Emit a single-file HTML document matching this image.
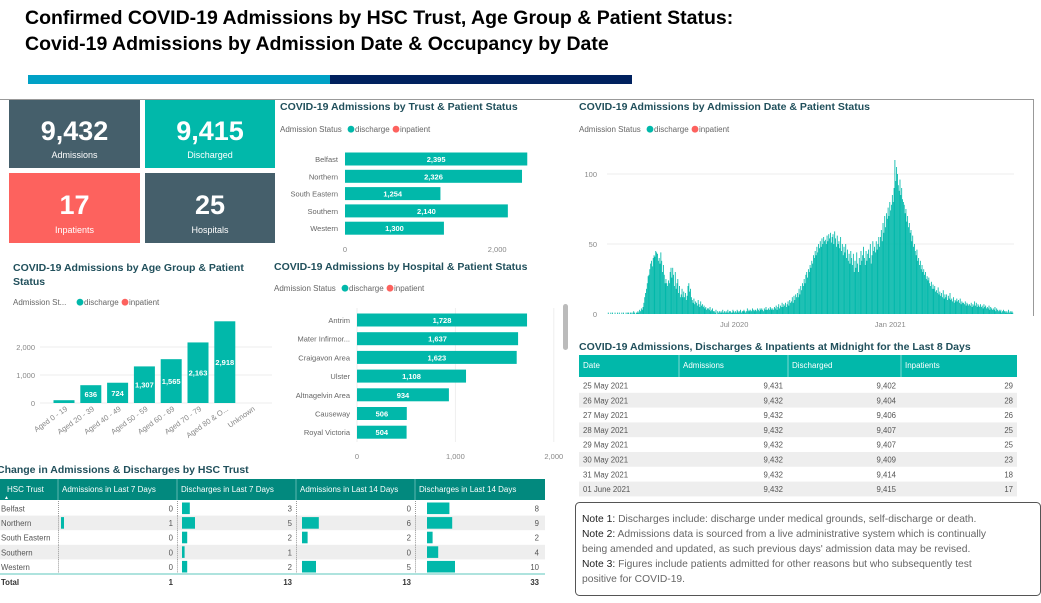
<!DOCTYPE html>
<html><head><meta charset="utf-8">
<style>
html,body{margin:0;padding:0;background:#fff;}
body{width:1041px;height:598px;overflow:hidden;position:relative;font-family:"Liberation Sans",sans-serif;}
svg text{font-family:"Liberation Sans",sans-serif;}
</style></head>
<body>
<svg id="s" width="1041" height="598" viewBox="0 0 1041 598" xmlns="http://www.w3.org/2000/svg">
  <text x="25" y="24" font-size="19.5" font-weight="bold" fill="#000">Confirmed COVID-19 Admissions by HSC Trust, Age Group &amp; Patient Status:</text>
  <text x="25" y="50" font-size="19.5" font-weight="bold" fill="#000">Covid-19 Admissions by Admission Date &amp; Occupancy by Date</text>
  <rect x="28" y="75" width="302" height="9" fill="#00a1c6"/>
  <rect x="330" y="75" width="302" height="9" fill="#00215e"/>
  <line x1="0" y1="99.5" x2="1033" y2="99.5" stroke="#999" stroke-width="1"/>
  <line x1="1033.5" y1="99" x2="1033.5" y2="316" stroke="#999" stroke-width="1"/>

  <g>
    <rect x="9" y="100" width="131" height="68" fill="#455f6b"/>
    <text x="74.5" y="140" font-size="27" font-weight="bold" fill="#fff" text-anchor="middle">9,432</text>
    <text x="74.5" y="158" font-size="9" fill="#fff" text-anchor="middle">Admissions</text>
  </g>
  <g>
    <rect x="145" y="100" width="130" height="68" fill="#01b8aa"/>
    <text x="210" y="140" font-size="27" font-weight="bold" fill="#fff" text-anchor="middle">9,415</text>
    <text x="210" y="158" font-size="9" fill="#fff" text-anchor="middle">Discharged</text>
  </g>
  <g>
    <rect x="9" y="173" width="131" height="70" fill="#fd625e"/>
    <text x="74.5" y="214" font-size="27" font-weight="bold" fill="#fff" text-anchor="middle">17</text>
    <text x="74.5" y="233" font-size="9" fill="#fff" text-anchor="middle">Inpatients</text>
  </g>
  <g>
    <rect x="145" y="173" width="130" height="70" fill="#455f6b"/>
    <text x="210" y="214" font-size="27" font-weight="bold" fill="#fff" text-anchor="middle">25</text>
    <text x="210" y="233" font-size="9" fill="#fff" text-anchor="middle">Hospitals</text>
  </g>

  <text x="280" y="110" font-size="10.5" font-weight="bold" fill="#21505c">COVID-19 Admissions by Trust &amp; Patient Status</text>
  <text x="13" y="271" font-size="10.5" font-weight="bold" fill="#21505c">COVID-19 Admissions by Age Group &amp; Patient</text>
  <text x="13" y="285" font-size="10.5" font-weight="bold" fill="#21505c">Status</text>
  <text x="274" y="270" font-size="10.5" font-weight="bold" fill="#21505c">COVID-19 Admissions by Hospital &amp; Patient Status</text>
  <text x="579" y="110" font-size="10.5" font-weight="bold" fill="#21505c">COVID-19 Admissions by Admission Date &amp; Patient Status</text>
  <text x="579" y="350" font-size="10.5" font-weight="bold" fill="#21505c">COVID-19 Admissions, Discharges &amp; Inpatients at Midnight for the Last 8 Days</text>
  <text x="-3" y="473" font-size="10.5" font-weight="bold" fill="#21505c">Change in Admissions &amp; Discharges by HSC Trust</text>

  <rect x="563" y="304" width="5" height="46" rx="2.5" fill="#bbb"/>

  <g id="g"></g>

  <g>
    <rect x="575.5" y="502.5" width="465" height="93" rx="4" fill="#fff" stroke="#555" stroke-width="1"/>
    <text x="582" y="522" font-size="10.3" fill="#666"><tspan fill="#222">Note 1:</tspan> Discharges include: discharge under medical grounds, self-discharge or death.</text>
    <text x="582" y="537" font-size="10.3" fill="#666"><tspan fill="#222">Note 2:</tspan> Admissions data is sourced from a live administrative system which is continually</text>
    <text x="582" y="552" font-size="10.3" fill="#666">being amended and updated, as such previous days' admission data may be revised.</text>
    <text x="582" y="567" font-size="10.3" fill="#666"><tspan fill="#222">Note 3:</tspan> Figures include patients admitted for other reasons but who subsequently test</text>
    <text x="582" y="582" font-size="10.3" fill="#666">positive for COVID-19.</text>
  </g>
</svg>
<script>
const trustNames = ["Belfast","Northern","South Eastern","Southern","Western"];
const trustValues = [2395,2326,1254,2140,1300];
const trustTicks = [0,2000];
const ageGroups = ["Aged 0 - 19","Aged 20 - 39","Aged 40 - 49","Aged 50 - 59","Aged 60 - 69","Aged 70 - 79","Aged 80 & O...","Unknown"];
const ageValues = [100,636,724,1307,1565,2163,2918,0];
const ageTicks = [0,1000,2000];
const hospitalNames = ["Antrim","Mater Infirmor...","Craigavon Area","Ulster","Altnagelvin Area","Causeway","Royal Victoria"];
const hospitalValues = [1728,1637,1623,1108,934,506,504];
const hospitalTicks = [0,1000,2000];
const dailyStart = "2020-02-02";
const dailyValues = [
0,1,0,0,1,0,1, 0,0,1,0,0,1,0, 1,0,0,1,0,1,0, 0,1,0,1,1,0,1, 1,0,1,2,1,0,1,
1,2,1,3,2,4,3, 5,8,12,15,18,22,27, 28,32,36,38,34,40,42, 41,45,44,43,38,40,36,
44,38,30,35,28,22,25, 22,20,24,22,30,33,26, 33,28,20,30,18,22,25, 15,20,12,14,18,12,16,
12,15,10,13,20,22,16, 18,12,10,8,11,7,9, 8,6,10,7,5,9,6, 7,5,6,4,5,3,4,
4,3,5,2,3,4,2, 2,1,3,0,2,1,2, 1,2,1,3,1,2,1, 2,1,3,1,2,2,1, 1,3,2,1,2,1,3,
2,1,2,3,1,2,2, 3,2,1,2,4,2,3, 2,3,2,4,3,2,3, 3,2,4,3,2,4,3, 4,3,2,4,3,5,3,
3,4,3,5,4,3,4, 3,5,4,6,3,5,7, 4,6,5,8,5,7,6, 8,5,7,9,6,10,8, 9,12,8,13,10,14,12,
15,12,18,14,20,17,22, 20,25,22,28,30,26,32, 30,35,33,38,36,42,40, 45,42,48,44,50,47,52,
48,54,50,55,52,53,50, 56,52,57,54,58,51,55, 57,50,59,54,48,56,50, 52,47,55,45,50,42,48,
44,50,40,46,38,43,36, 45,40,35,43,30,38,33, 44,36,30,40,35,45,38, 42,48,40,35,45,38,43,
46,40,50,36,42,52,45, 48,44,52,46,50,55,48, 55,60,52,65,58,70,62, 72,68,76,70,80,74,78,
85,80,90,110,95,105,100, 92,88,96,85,90,82,80, 78,72,75,66,70,62,65, 58,60,52,56,48,50,45,
42,46,38,40,35,38,32, 35,30,32,28,30,25,27, 24,26,22,20,23,18,21, 18,20,16,17,15,19,14,
16,13,15,12,17,11,14, 12,14,10,13,11,15,10, 11,9,12,8,10,9,11, 9,10,8,11,7,9,8,
8,7,9,6,8,7,6, 7,6,8,5,7,6,9, 6,8,5,7,6,5,7, 5,6,4,7,5,6,4,
5,4,6,3,5,4,3, 4,3,5,2,4,3,2, 3,2,3,1,2,3,2, 2,1,2,1,3,1,2, 1,2,1
];
const dateTicks = [50,100];
const dateTickLabels = ["Jul 2020","Jan 2021"];
const dateTickDates = ["2020-07-01","2021-01-01"];
const midDates = ["25 May 2021","26 May 2021","27 May 2021","28 May 2021","29 May 2021","30 May 2021","31 May 2021","01 June 2021"];
const midAdmissions = [9431,9432,9432,9432,9432,9432,9432,9432];
const midDischarged = [9402,9404,9406,9407,9407,9409,9414,9415];
const midInpatients = [29,28,26,25,25,23,18,17];
const chTrusts = ["Belfast","Northern","South Eastern","Southern","Western"];
const chAdm7 = [0,1,0,0,0];
const chDis7 = [3,5,2,1,2];
const chAdm14 = [0,6,2,0,5];
const chDis14 = [8,9,2,4,10];
const chTotals = [1,13,13,33];

const NS="http://www.w3.org/2000/svg";
const G=document.getElementById('g');
function el(tag,attrs,parent){const e=document.createElementNS(NS,tag);for(const k in attrs)e.setAttribute(k,attrs[k]);(parent||G).appendChild(e);return e;}
function txt(x,y,s,size,fill,anchor,extra){const t=el('text',Object.assign({x:x,y:y,'font-size':size,fill:fill,'text-anchor':anchor||'start'},extra||{}));t.textContent=s;return t;}
const fmt=v=>v.toLocaleString('en-US');
const TEAL="#01b8aa", RED="#fd625e";
function legend(x,y,label){
  txt(x,y,label,8,"#666");
  const w=label.length*4+4;
  el('circle',{cx:x+w+3,cy:y-2.8,r:3.4,fill:TEAL});
  txt(x+w+7,y,"discharge",8,"#666");
  el('circle',{cx:x+w+48,cy:y-2.8,r:3.4,fill:RED});
  txt(x+w+52,y,"inpatient",8,"#666");
}

legend(280,132,"Admission Status");
const tx=v=>345+v*0.0761;
trustNames.forEach((n,i)=>{
  const cy=159+i*17.3;
  const lab=txt(338,cy+3,n,7.5,"#666","end");
  
  
  const r=el('rect',{x:tx(0),y:cy-6.5,width:tx(trustValues[i])-tx(0),height:13,fill:TEAL});
  
  
  txt((tx(0)+tx(trustValues[i]))/2,cy+3,fmt(trustValues[i]),7.5,"#fff","middle",{'font-weight':'bold'});
});
trustTicks.forEach(t=>{txt(tx(t),252,fmt(t),7.5,"#888","middle");});

legend(13,305,"Admission St...");
const ay=v=>403-v*0.028;
ageTicks.forEach(t=>{
  el('line',{x1:40,x2:272,y1:ay(t),y2:ay(t),stroke:"#eee"});
  txt(35,ay(t)+3,fmt(t),7.5,"#888","end");
});
ageGroups.forEach((n,i)=>{
  const cx=64+i*26.8;
  if(ageValues[i]>0){
    const r=el('rect',{x:cx-10.5,y:ay(ageValues[i]),width:21,height:ay(0)-ay(ageValues[i]),fill:TEAL});
    
    
    if(ageValues[i]>300){
      txt(cx,(ay(0)+ay(ageValues[i]))/2+3,fmt(ageValues[i]),7.5,"#fff","middle",{'font-weight':'bold'});
    }
  }
  const l=txt(cx+4,410,n,7.5,"#888","end",{transform:`rotate(-35 ${cx+4} 410)`});
  
  
});

legend(274,291,"Admission Status");
const hx=v=>357+v*0.0984;
hospitalTicks.forEach(t=>{
  el('line',{x1:hx(t),x2:hx(t),y1:308,y2:442,stroke:"#eee"});
  txt(hx(t),459,fmt(t),7.5,"#888","middle");
});
hospitalNames.forEach((n,i)=>{
  const cy=320+i*18.7;
  txt(350,cy+3,n,7.5,"#666","end");
  const r=el('rect',{x:hx(0),y:cy-6.5,width:hx(hospitalValues[i])-hx(0),height:13,fill:TEAL});
  
  
  txt((hx(0)+hx(hospitalValues[i]))/2,cy+3,fmt(hospitalValues[i]),7.5,"#fff","middle",{'font-weight':'bold'});
});

legend(579,132,"Admission Status");
const d0=new Date(dailyStart+"T00:00:00Z").getTime();
const dayOf=s=>(new Date(s+"T00:00:00Z").getTime()-d0)/86400000;
const dx=d=>607+d*0.848;
const dy=v=>314-v*1.4;
[0].concat(dateTicks).forEach(t=>{
  if(t>0) el('line',{x1:607,x2:1014,y1:dy(t),y2:dy(t),stroke:"#eee"});
  txt(597,dy(t)+3,String(t),7.5,"#888","end");
});
dailyValues.forEach((v,i)=>{
  if(v<=0)return;
  const r=el('rect',{x:dx(i),y:dy(v),width:0.85,height:dy(0)-dy(v),fill:TEAL});
  
  
});
dateTickLabels.forEach((l,i)=>{txt(dx(dayOf(dateTickDates[i])),327,l,7.5,"#888","middle");});

el('rect',{x:579,y:355,width:438,height:22,fill:TEAL});
const mhX=[583,683,792,905];
["Date","Admissions","Discharged","Inpatients"].forEach((h,i)=>{
  txt(mhX[i],368,h,8,"#fff");
  if(i>0) el('line',{x1:mhX[i]-4,x2:mhX[i]-4,y1:355,y2:377,stroke:"#7fd9d1"});
});
midDates.forEach((d,i)=>{
  const y=378+i*14.8;
  if(i%2===1) el('rect',{x:579,y:y,width:438,height:14.8,fill:"#eeeeee"});
  const row=txt(583,y+10.5,d,7.8,"#555");
  
  
  txt(783,y+10.5,fmt(midAdmissions[i]),7.8,"#555","end");
  txt(896,y+10.5,fmt(midDischarged[i]),7.8,"#555","end");
  txt(1013,y+10.5,String(midInpatients[i]),7.8,"#555","end");
});

const cE=[0,58,177,296,415,543];
el('rect',{x:0,y:479,width:545,height:21,fill:"#02897e"});
["HSC Trust","Admissions in Last 7 Days","Discharges in Last 7 Days","Admissions in Last 14 Days","Discharges in Last 14 Days"].forEach((h,i)=>{
  txt(i===0?7:cE[i]+4,492,h,8,"#fff");
  if(i>0) el('line',{x1:cE[i],x2:cE[i],y1:479,y2:500,stroke:"#5cb8b0"});
});
txt(4,499,"▲",5,"#fff");
const cols=[chAdm7,chDis7,chAdm14,chDis14];
const per=[3,2.6,2.8,2.8];
chTrusts.forEach((n,i)=>{
  const y=501+i*14.6;
  if(i%2===1) el('rect',{x:0,y:y,width:545,height:14.6,fill:"#eeeeee"});
  txt(1,y+10.5,n,7.8,"#555");
  cols.forEach((arr,c)=>{
    const x0=cE[c+1]+1;
    el('line',{x1:cE[c+1]+0.5,x2:cE[c+1]+0.5,y1:y,y2:y+14.6,stroke:"#999","stroke-dasharray":"1,1"});
    if(arr[i]>0){
      const r=el('rect',{x:x0+(c===0?2:c===1?4:c===2?5:11),y:y+1.5,width:arr[i]*per[c],height:11.6,fill:TEAL});
      
      
    }
    txt(cE[c+2]-4,y+10.5,String(arr[i]),7.8,"#555","end");
  });
});
el('line',{x1:0,x2:545,y1:574,y2:574,stroke:"#aee3de","stroke-width":2});
txt(1,585,"Total",7.8,"#333","start",{'font-weight':'bold'});
chTotals.forEach((t,c)=>{txt(cE[c+2]-4,585,String(t),7.8,"#333","end",{'font-weight':'bold'});});
</script>
</body></html>
